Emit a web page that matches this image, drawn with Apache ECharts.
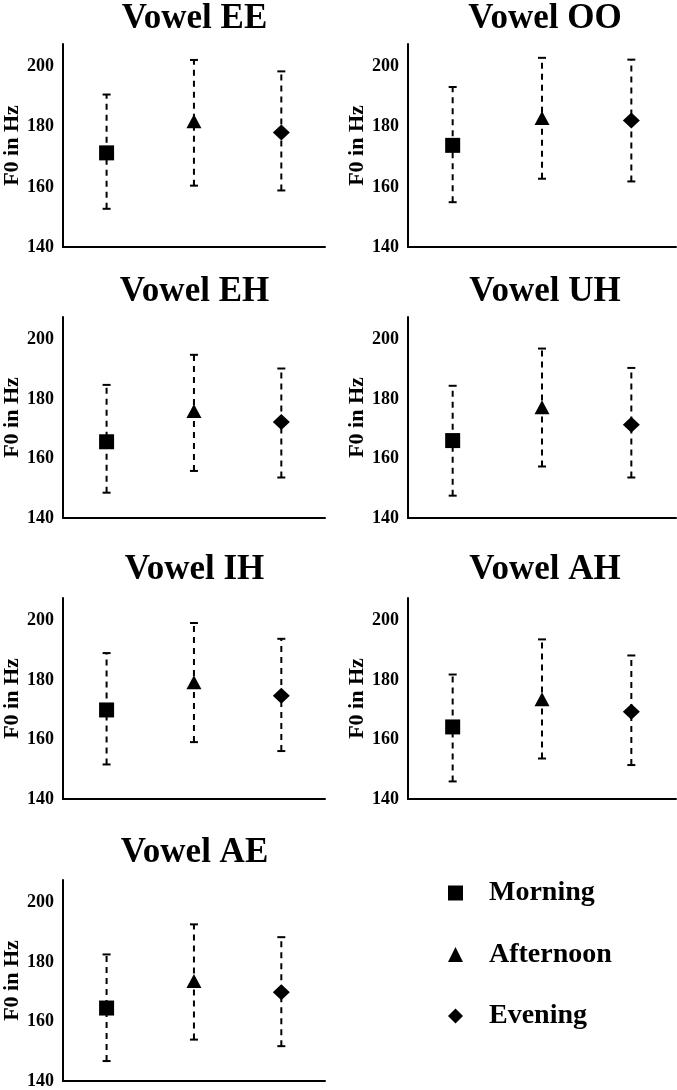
<!DOCTYPE html>
<html>
<head>
<meta charset="utf-8">
<script src="https://cdn.jsdelivr.net/npm/echarts@6/dist/echarts.min.js"></script>
<style>
html,body{margin:0;padding:0;background:#fff;}
#chart{width:677px;height:1090px;}
</style>
</head>
<body>
<div id="chart"></div>
<script>
// ---- data ----
const categories = ['Morning', 'Afternoon', 'Evening'];
const vowels = ['Vowel EE', 'Vowel OO', 'Vowel EH', 'Vowel UH', 'Vowel IH', 'Vowel AH', 'Vowel AE'];
const meanMorning   = [171.3, 173.8, 165.6, 166.0, 169.9, 164.2, 164.5];
const lowMorning    = [152.7, 154.9, 148.5, 147.5, 151.6, 145.9, 146.7];
const highMorning   = [190.7, 193.2, 184.7, 184.4, 189.0, 181.8, 182.5];
const meanAfternoon = [181.8, 182.9, 175.9, 177.2, 179.2, 173.5, 173.6];
const lowAfternoon  = [160.4, 162.7, 155.8, 157.3, 159.1, 153.6, 153.9];
const highAfternoon = [202.2, 202.9, 194.8, 196.9, 199.1, 193.6, 192.6];
const meanEvening   = [178.1, 182.1, 172.2, 171.3, 174.7, 169.3, 169.8];
const lowEvening    = [158.8, 161.8, 153.6, 153.6, 156.1, 151.4, 151.7];
const highEvening   = [198.4, 202.3, 190.2, 190.4, 193.8, 188.2, 188.3];
const yTicks = [140, 160, 180, 200];
const yAxisTitle = 'F0 in Hz';

// ---- layout ----
const FONT = "'Liberation Serif', 'Times New Roman', serif";
const colLeft = [58, 408];
const colWidth = [267, 268];
const rowTop = [44, 317, 598, 880];
const rowHeight = [203, 201, 201, 202];
const titleTop = [1, 274, 552, 835];
const yMin = 140, yMax = 207.5;

const means = [meanMorning, meanAfternoon, meanEvening];
const lows = [lowMorning, lowAfternoon, lowEvening];
const highs = [highMorning, highAfternoon, highEvening];
const symbols = ['rect', 'triangle', 'diamond'];
const symSizes = [15, [15, 14], [17, 16]];

const grids = [], xAxes = [], yAxes = [], series = [], titles = [];

vowels.forEach((v, i) => {
  const row = Math.floor(i / 2), col = i % 2;
  grids.push({left: colLeft[col], top: rowTop[row], width: colWidth[col], height: rowHeight[row], containLabel: false});
  xAxes.push({
    type: 'category', gridIndex: i, data: categories, boundaryGap: true,
    axisLine: {lineStyle: {color: '#000', width: 2}},
    axisTick: {show: false}, axisLabel: {show: false}, splitLine: {show: false}
  });
  yAxes.push({
    type: 'value', gridIndex: i, min: yMin, max: yMax, interval: 20,
    name: yAxisTitle, nameLocation: 'middle', nameRotate: 90, nameGap: 39,
    nameTextStyle: {fontFamily: FONT, fontWeight: 'bold', fontSize: 22, color: '#000'},
    axisLine: {show: true, lineStyle: {color: '#000', width: 2}},
    axisTick: {show: false},
    splitLine: {show: false},
    axisLabel: {
      fontFamily: FONT, fontWeight: 'bold', fontSize: 18, color: '#000', margin: 9,
      formatter: (val) => yTicks.indexOf(val) >= 0 ? String(val) : ''
    }
  });
  titles.push({
    text: v, left: colLeft[col] + colWidth[col] / 2 + 3, top: titleTop[row], textAlign: 'center', padding: 0,
    textStyle: {fontFamily: FONT, fontWeight: 'bold', fontSize: 35, color: '#000'}
  });
  // error bars
  const ebData = categories.map((c, k) => [k, lows[k][i], highs[k][i]]);
  series.push({
    type: 'custom', xAxisIndex: i, yAxisIndex: i, z: 2, silent: true,
    data: ebData,
    renderItem: function (params, api) {
      const x = api.value(0);
      const lo = api.coord([x, api.value(1)]);
      const hi = api.coord([x, api.value(2)]);
      const cw = 4;
      const style = {stroke: '#000', lineWidth: 2};
      return {
        type: 'group',
        children: [
          {type: 'line', shape: {x1: lo[0], y1: lo[1], x2: hi[0], y2: hi[1]}, style: Object.assign({lineDash: [6, 5]}, style)},
          {type: 'line', shape: {x1: lo[0] - cw, y1: lo[1], x2: lo[0] + cw, y2: lo[1]}, style: style},
          {type: 'line', shape: {x1: hi[0] - cw, y1: hi[1], x2: hi[0] + cw, y2: hi[1]}, style: style}
        ]
      };
    }
  });
  categories.forEach((c, k) => {
    series.push({
      type: 'scatter', name: c, xAxisIndex: i, yAxisIndex: i, z: 3,
      symbol: symbols[k], symbolSize: symSizes[k],
      itemStyle: {color: '#000', opacity: 1},
      data: [[k, means[k][i]]]
    });
  });
});

const option = {
  animation: false,
  backgroundColor: '#fff',
  title: titles,
  grid: grids,
  xAxis: xAxes,
  yAxis: yAxes,
  legend: {
    orient: 'vertical', left: 443, top: 874,
    itemWidth: 15, itemHeight: 15, itemGap: 33.5,
    selectedMode: false,
    data: categories.map((c, k) => ({name: c, icon: symbols[k]})),
    textStyle: {fontFamily: FONT, fontWeight: 'bold', fontSize: 28, color: '#000', lineHeight: 28, padding: [0, 0, 0, 21]}
  },
  series: series
};

const chart = echarts.init(document.getElementById('chart'), null, {renderer: 'canvas'});
chart.setOption(option);
</script>
</body>
</html>
